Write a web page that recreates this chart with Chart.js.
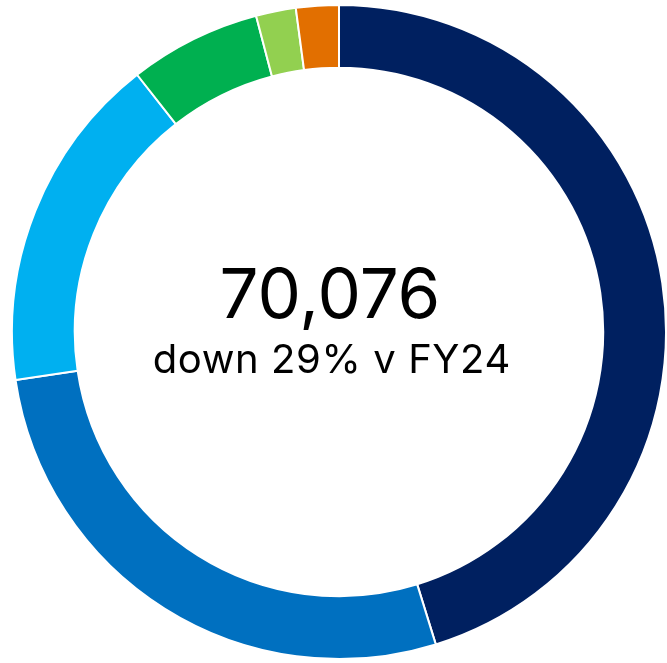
<!DOCTYPE html>
<html>
<head>
<meta charset="utf-8">
<script src="https://cdn.jsdelivr.net/npm/chart.js@4/dist/chart.umd.min.js"></script>
<style>
  html, body { margin: 0; padding: 0; background: #ffffff; overflow: hidden; }
  #wrap { position: absolute; left: 11px; top: 4px; width: 656px; height: 656px; }
</style>
</head>
<body>
<div id="wrap"><canvas id="donut"></canvas></div>
<script>
// segment order: clockwise from 12 o'clock
const labels = ['Segment 1', 'Segment 2', 'Segment 3', 'Segment 4', 'Segment 5', 'Segment 6'];
const values = [31687, 19226, 11742, 4561, 1381, 1479];
const colors = ['#002060', '#0070C0', '#00B0F0', '#00B050', '#92D050', '#E26F00'];
const centerTitle = '70,076';
const centerSubtitle = 'down 29% v FY24';

// draws the two lines of text in the hole
const centerText = {
  id: 'centerText',
  afterDraw(chart) {
    const arc = chart.getDatasetMeta(0).data[0];
    if (!arc) return;
    const ctx = chart.ctx;
    const x = arc.x;
    const y = arc.y;
    ctx.save();
    ctx.fillStyle = '#000000';
    ctx.textAlign = 'center';
    ctx.textBaseline = 'alphabetic';
    ctx.font = '400 69px Inter, "Noto Sans", sans-serif';
    ctx.fillText(centerTitle, x - 9, y - 14);
    ctx.font = '400 40px Inter, "Noto Sans", sans-serif';
    ctx.letterSpacing = '0.6px';
    ctx.fillText(centerSubtitle, x - 7.5 + 0.3, y + 41);
    ctx.restore();
  }
};

new Chart(document.getElementById('donut').getContext('2d'), {
  type: 'doughnut',
  data: {
    labels: labels,
    datasets: [{
      data: values,
      backgroundColor: colors,
      borderColor: '#ffffff',
      borderWidth: 2,
    }],
  },
  options: {
    responsive: true,
    maintainAspectRatio: false,
    animation: false,
    cutout: '80.8%',
    layout: { padding: 0 },
    plugins: {
      legend: { display: false },
      tooltip: { enabled: false },
    },
  },
  plugins: [centerText],
});
</script>
</body>
</html>
